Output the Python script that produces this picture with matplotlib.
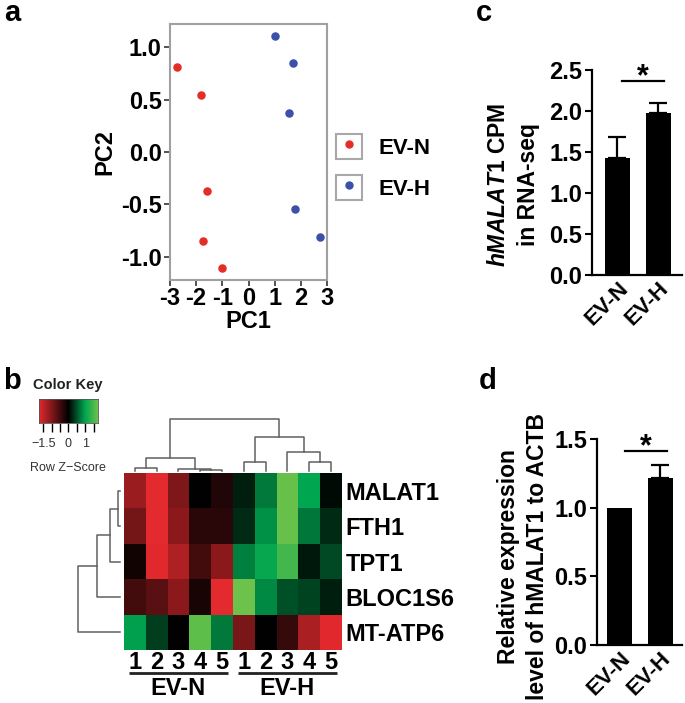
import numpy as np
import matplotlib
matplotlib.use("Agg")
import matplotlib.pyplot as plt
from matplotlib.colors import LinearSegmentedColormap
from matplotlib.patches import Patch
from matplotlib.lines import Line2D
from matplotlib.legend_handler import HandlerTuple
from matplotlib.transforms import ScaledTranslation, blended_transform_factory

# ---------------- data ----------------
pca_groups = ["EV-N", "EV-H"]
pc1_evn = [-2.73, -1.80, -1.57, -1.73, -1.02]
pc2_evn = [0.81, 0.54, -0.37, -0.85, -1.11]
pc1_evh = [1.01, 1.70, 1.55, 1.77, 2.73]
pc2_evh = [1.11, 0.85, 0.37, -0.54, -0.81]

genes = ["MALAT1", "FTH1", "TPT1", "BLOC1S6", "MT-ATP6"]
sample_labels = ["1", "2", "3", "4", "5", "1", "2", "3", "4", "5"]
sample_groups = ["EV-N", "EV-H"]
group_sizes = [5, 5]
z_malat1 = [-1.19, -1.75, -0.96, 0.00, -0.25, 0.19, 0.73, 1.70, 1.00, 0.06]
z_fth1 = [-0.90, -1.75, -1.07, -0.32, -0.32, 0.25, 0.87, 1.70, 0.72, 0.25]
z_tpt1 = [-0.15, -1.73, -1.34, -0.51, -1.07, 0.77, 1.05, 1.45, 0.15, 0.45]
z_bloc1s6 = [-0.51, -0.69, -1.07, -0.20, -1.75, 1.75, 0.83, 0.48, 0.40, 0.19]
z_mtatp6 = [0.97, 0.37, 0.00, 1.65, 0.73, -0.94, 0.00, -0.42, -1.30, -1.73]
# linkage rows: (cluster a, cluster b, merge height)
col_linkage = [(3, 4, 1.0), (0, 1, 3.0), (2, 10, 2.5), (11, 12, 12.7),
               (5, 6, 9.3), (8, 9, 9.3), (7, 15, 19.3), (14, 16, 34.3),
               (13, 17, 51.7)]
row_linkage = [(0, 1, 2.0), (5, 2, 10.0), (6, 3, 23.3), (7, 4, 41.7)]
key_ticks = [-1.5, -1.0, -0.5, 0.0, 0.5, 1.0, 1.5]
key_labels = ["\u22121.5", "", "", "0", "", "1", ""]

bar_groups = ["EV-N", "EV-H"]
cpm_mean = [1.43, 1.97]
cpm_sem = [0.25, 0.13]
qpcr_mean = [1.00, 1.22]
qpcr_sem = [0.0, 0.095]

# ---------------- style ----------------
plt.rcParams["font.family"] = ["Liberation Sans", "DejaVu Sans"]
plt.rcParams["axes.unicode_minus"] = False
plt.rcParams["mathtext.fontset"] = "custom"
plt.rcParams["mathtext.it"] = "Liberation Sans:italic:bold"
plt.rcParams["mathtext.rm"] = "Liberation Sans:bold"
plt.rcParams["mathtext.bf"] = "Liberation Sans:bold"

W, H = 685, 703
fig = plt.figure(figsize=(W / 100, H / 100), dpi=100)


def ax_px(x0, y0, x1, y1):
    return fig.add_axes([x0 / W, 1 - y1 / H, (x1 - x0) / W, (y1 - y0) / H])


RED = "#e52d27"
BLUE = "#3b50a8"
TICKFS = 17

# ---------------- panel a ----------------
ax = ax_px(170, 24, 327, 280)
ax.scatter(pc1_evn, pc2_evn, s=26, color=RED, zorder=3)
ax.scatter(pc1_evh, pc2_evh, s=26, color=BLUE, zorder=3)
ax.set_xlim(-3, 3)
ax.set_ylim(-1.22, 1.22)
ax.set_xticks(range(-3, 4))
ax.set_yticks([-1.0, -0.5, 0.0, 0.5, 1.0])
ax.set_yticklabels([f"{v:.1f}" for v in [-1.0, -0.5, 0.0, 0.5, 1.0]])
for s in ax.spines.values():
    s.set_color("#a0a0a0")
    s.set_linewidth(1.5)
ax.tick_params(length=4.5, width=1.3, color="#444", labelsize=TICKFS, pad=1.5)
ax.tick_params(axis="x", pad=0.5)
for t in ax.get_xticklabels() + ax.get_yticklabels():
    t.set_fontweight("bold")
ax.set_xlabel("PC1", fontsize=TICKFS, fontweight="bold", labelpad=0)
ax.set_ylabel("PC2", fontsize=TICKFS, fontweight="bold", labelpad=3)
handles = [(Patch(facecolor="white", edgecolor="#a8a8a8", linewidth=1.5),
            Line2D([], [], marker="o", ls="", color=c, markersize=5))
           for c in (RED, BLUE)]
leg = fig.legend(handles, pca_groups, handler_map={tuple: HandlerTuple(ndivide=1, pad=0)},
                 loc="upper left", bbox_to_anchor=(336 / W, 1 - 134 / H),
                 frameon=False, borderpad=0, borderaxespad=0,
                 handlelength=1.15, handleheight=1.35, handletextpad=0.75,
                 labelspacing=0.72, prop={"size": 16, "weight": "bold"})

# ---------------- panel b ----------------
cmap = LinearSegmentedColormap.from_list(
    "rg", [(0.0, "#e32a2e"), (0.5, "#000000"), (0.786, "#00a651"), (1.0, "#6cc24a")])
VMIN, VMAX = -1.75, 1.75
zscores = np.array([z_malat1, z_fth1, z_tpt1, z_bloc1s6, z_mtatp6])

hx0, hy0, hx1, hy1 = 124, 473.3, 341.7, 650
axh = ax_px(hx0, hy0, hx1, hy1)
axh.imshow(zscores, cmap=cmap, vmin=VMIN, vmax=VMAX, aspect="auto", interpolation="nearest")
axh.yaxis.tick_right()
axh.set_yticks(range(len(genes)))
axh.set_yticklabels(genes, fontsize=17, fontweight="bold")
axh.set_xticks(range(len(sample_labels)))
axh.set_xticklabels(sample_labels, fontsize=17, fontweight="bold")
axh.tick_params(length=0)
axh.tick_params(axis="y", pad=3)
axh.tick_params(axis="x", pad=0.5)
for s in axh.spines.values():
    s.set_visible(False)
tr = blended_transform_factory(axh.transData, axh.transAxes)
start = 0
for g, n in zip(sample_groups, group_sizes):
    end = start + n - 1
    axh.plot([start - 0.25, end + 0.27], [-0.132, -0.132], color="#222", lw=2,
             transform=tr, clip_on=False, solid_capstyle="butt")
    axh.text((start + end) / 2, -0.22, g, transform=tr, ha="center", va="center",
             fontsize=17, fontweight="bold")
    start += n


def draw_dendro(a, linkage, n, orient):
    pos = {i: float(i) for i in range(n)}
    hgt = {i: 0.0 for i in range(n)}
    for k, (p, q, h) in enumerate(linkage):
        xs = [pos[p], pos[p], pos[q], pos[q]]
        ys = [hgt[p], h, h, hgt[q]]
        if orient == "top":
            a.plot(xs, ys, color="#606060", lw=1.1, clip_on=False)
        else:
            a.plot(ys, xs, color="#606060", lw=1.1, clip_on=False)
        pos[n + k] = (pos[p] + pos[q]) / 2
        hgt[n + k] = h


axcd = ax_px(hx0, 415, hx1, 471)
draw_dendro(axcd, col_linkage, 10, "top")
axcd.set_xlim(-0.5, 9.5)
axcd.set_ylim(0, 56)
axcd.axis("off")

axrd = ax_px(70, hy0, 120, hy1)
draw_dendro(axrd, row_linkage, 5, "left")
axrd.set_ylim(4.5, -0.5)
axrd.set_xlim(50, 0)
axrd.axis("off")

axk = ax_px(39, 399.3, 97.7, 423.3)
grad = np.linspace(VMIN, VMAX, 256)[None, :]
axk.imshow(grad, cmap=cmap, vmin=VMIN, vmax=VMAX, aspect="auto",
           extent=[VMIN, VMAX, 0, 1])
axk.set_yticks([])
axk.set_xticks(key_ticks)
axk.set_xticklabels(key_labels, fontsize=9, color="#333")
axk.tick_params(axis="x", length=6.5, width=1, pad=4)
for s in axk.spines.values():
    s.set_linewidth(0.6)
    s.set_color("#555")
fig.text(68 / W, 1 - 385 / H, "Color Key", ha="center", va="center",
         fontsize=10.5, fontweight="bold", color="#222")
fig.text(68 / W, 1 - 468 / H, "Row Z\u2212Score", ha="center", va="center",
         fontsize=9, color="#333")


# ---------------- panels c, d ----------------
def bar_panel(a, means, sems, ymax, ystep, sig_y, sig_x, label, lab_x, lab_y):
    x = np.arange(len(means))
    a.bar(x, means, width=0.62, color="black")
    for xi, m, e in zip(x, means, sems):
        if e > 0:
            a.errorbar(xi, m, yerr=[[0], [e]], fmt="none", ecolor="black",
                       elinewidth=1.6, capsize=6.5, capthick=1.6)
    a.set_ylim(0, ymax)
    ticks = np.arange(0, ymax + 1e-9, ystep)
    a.set_yticks(ticks)
    a.set_yticklabels([f"{t:.1f}" for t in ticks], fontsize=TICKFS, fontweight="bold")
    a.set_xticks(x)
    a.set_xticklabels(bar_groups, fontsize=16, fontweight="bold", rotation=45,
                      ha="right", rotation_mode="anchor")
    off = ScaledTranslation(10 / 72, -5 / 72, fig.dpi_scale_trans)
    for t in a.get_xticklabels():
        t.set_transform(t.get_transform() + off)
    a.tick_params(axis="x", length=0, pad=2)
    a.tick_params(axis="y", length=5, width=1.5, pad=2)
    for s in ("top", "right"):
        a.spines[s].set_visible(False)
    for s in ("left", "bottom"):
        a.spines[s].set_linewidth(1.6)
    a.plot(sig_x, [sig_y, sig_y], color="black", lw=1.6, clip_on=False)
    a.annotate("*", xy=(np.mean(sig_x), sig_y), xytext=(0, -3), textcoords="offset points",
               ha="center", va="baseline", fontsize=22, fontweight="bold")
    a.set_ylabel(label, fontsize=16.5, fontweight="bold", linespacing=1.35)
    a.yaxis.set_label_coords(lab_x, lab_y)


axc = ax_px(591.7, 70, 681.7, 275)
axc.set_xlim(-0.63, 1.57)
bar_panel(axc, cpm_mean, cpm_sem, 2.5, 0.5, 2.37, [0.12, 1.14],
          "$\\mathit{hMALAT1}$ CPM\nin RNA-seq", -0.58, 0.44)

axd = ax_px(596.7, 439.3, 681.7, 645)
axd.set_xlim(-0.56, 1.52)
bar_panel(axd, qpcr_mean, qpcr_sem, 1.5, 0.5, 1.414, [0.13, 1.15],
          "Relative expression\nlevel of hMALAT1 to ACTB", -0.56, 0.43)

# panel letters
for lx, ly, lt in [(4, 21, "a"), (3, 389, "b"), (476, 21, "c"), (479, 389, "d")]:
    fig.text(lx / W, 1 - ly / H, lt, fontsize=21, fontweight="bold", va="baseline")

fig.savefig("out.png", dpi=100)
